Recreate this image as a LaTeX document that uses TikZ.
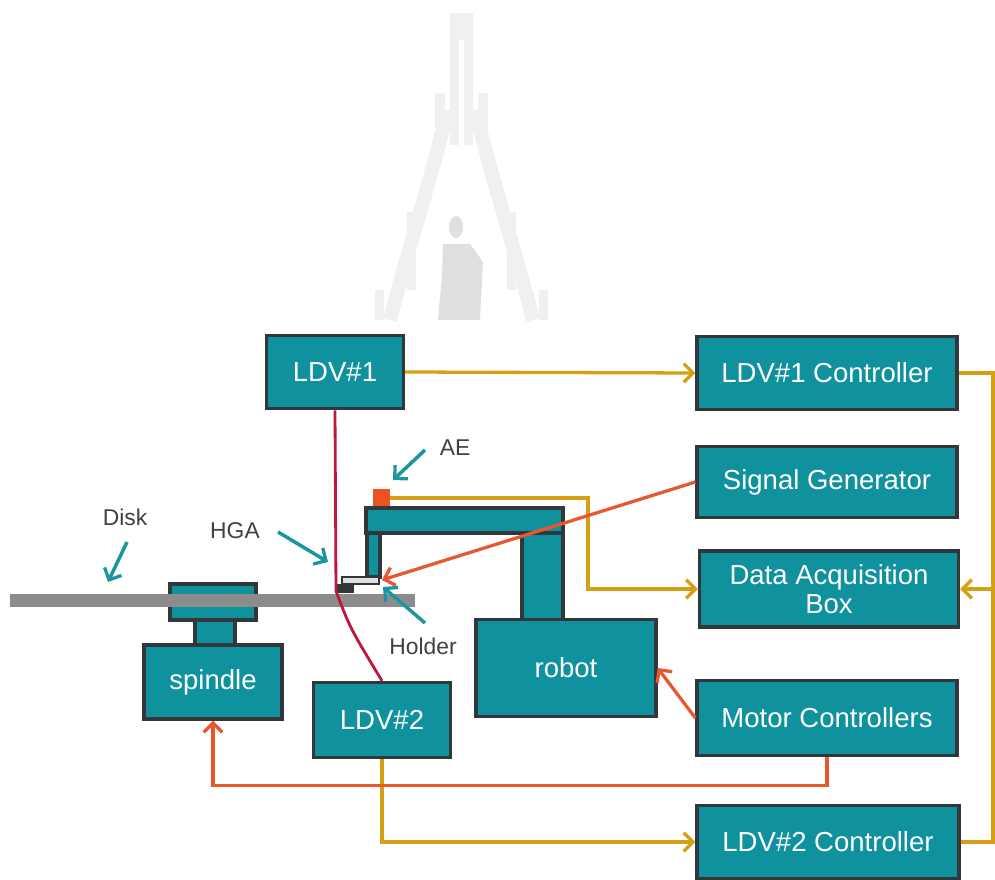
\documentclass[tikz,border=0pt]{standalone}
\usepackage{fontspec}
\setmainfont{Liberation Sans}
\usetikzlibrary{arrows.meta}
\definecolor{boxteal}{RGB}{16,145,158}
\definecolor{boxedge}{RGB}{50,55,60}
\definecolor{wiregold}{RGB}{214,160,20}
\definecolor{sigred}{RGB}{232,88,48}
\definecolor{beamred}{RGB}{190,22,60}
\definecolor{pointteal}{RGB}{26,150,160}
\definecolor{diskgray}{RGB}{140,140,140}
\definecolor{aeorange}{RGB}{236,82,36}
\definecolor{tagtext}{RGB}{64,64,64}
\tikzset{% blocks and wires of the test rig
        unit/.style={draw=boxedge, fill=boxteal, line width=2.8pt, text=white,
          font=\fontsize{23.5}{25}\selectfont, inner sep=0pt, align=center},
        part/.style={draw=boxedge, fill=boxteal, line width=2.8pt},
        tag/.style={text=tagtext, font=\fontsize{19.5}{22}\selectfont, inner sep=0pt},
        barb/.style={-{Straight Barb[length=8pt,width=16pt,line width=2.8pt]}},
        wire/.style={draw=wiregold, line width=2.8pt},
        signal/.style={draw=sigred, line width=2.8pt},
        beam/.style={draw=beamred, line width=2.4pt},
        pointer/.style={draw=pointteal, line width=3pt, barb}
        }

\begin{document}
\begin{tikzpicture}[x=0.03cm, y=-0.03cm]
\useasboundingbox (0,0) rectangle (995,880);

% watermark
\fill [gray!12] (450,13) rectangle (473,145);
\fill [white] (459,40) rectangle (464,145);
\fill [gray!12] (435,93) rectangle (445,128);
\fill [gray!12] (478,93) rectangle (488,128);
\draw [gray!12, line width=12pt] (448,110) .. controls (425,200) and (405,260) .. (390,320);
\draw [gray!12, line width=12pt] (475,110) .. controls (498,200) and (518,260) .. (533,320);
\fill [gray!12] (407,212) rectangle (416,290);
\fill [gray!12] (507,212) rectangle (516,290);
\fill [gray!12] (375,290) rectangle (384,320);
\fill [gray!12] (539,290) rectangle (548,320);
\fill [gray!25] (456,227) ellipse (7 and 11);
\fill [gray!25] (443,244) -- (470,244) -- (483,262) -- (480,320) -- (438,320) -- (442,275) -- cycle;

% spindle and disk
\filldraw [part] (195,620) rectangle (235,645);
\filldraw [part] (170,584) rectangle (256,620);
\fill [diskgray] (10,594) rectangle (415,607);

% robot arm
\filldraw [part] (522,533) rectangle (563,620);
\filldraw [part] (366,508) rectangle (563,533);
\filldraw [part] (367,533) rectangle (380,577);

% holder with HGA
\filldraw [draw=boxedge, fill=gray!25, line width=1.8pt] (342,577) rectangle (379,584);
\fill [boxedge] (336,584) rectangle (354,593);
\node [fill=aeorange, minimum size=0.51cm, inner sep=0pt] (ae) at (381,498) {};

% blocks
\node [unit, minimum width=4.1cm, minimum height=2.2cm] (ldv1) at (335,372) {LDV\#1};
\node [unit, minimum width=7.8cm, minimum height=2.2cm] (ldv1ctl) at (827,373) {LDV\#1 Controller};
\node [unit, minimum width=7.8cm, minimum height=2.13cm] (siggen) at (827,482) {Signal Generator};
\node [unit, minimum width=7.77cm, minimum height=2.28cm] (daq) at (829,589) {Data Acquisition\\Box};
\node [unit, minimum width=7.8cm, minimum height=2.25cm] (motor) at (827,718) {Motor Controllers};
\node [unit, minimum width=7.86cm, minimum height=2.2cm] (ldv2ctl) at (828,842) {LDV\#2 Controller};
\node [unit, minimum width=5.4cm, minimum height=2.9cm] (robot) at (566,668) {robot};
\node [unit, minimum width=4.14cm, minimum height=2.22cm] (spindle) at (213,682) {spindle};
\node [unit, minimum width=4.11cm, minimum height=2.25cm] (ldv2) at (382,720) {LDV\#2};

% laser beams
\coordinate (spot) at (336,591);
\draw [beam] (ldv1.south) -- (spot) .. controls (350,628) .. (ldv2.north);

% gold signal wires
\draw [wire, barb] (ldv1.east) -- (ldv1ctl.west);
\draw [wire, barb] (ae.east) -- (588,498) |- (daq.west);
\draw [wire] (ldv1ctl.east) -- (993,373) |- (ldv2ctl.east);
\draw [wire, barb] (993,589) -- (daq.east);
\draw [wire, barb] (ldv2.south) |- (ldv2ctl.west);

% drive and excitation
\coordinate (holdertip) at (382,580);
\draw [signal, barb] (siggen.west) -- (holdertip);
\draw [signal, barb] (motor.west) -- (robot.east);
\draw [signal, barb] (motor.south) -- ++(0,28) -| (spindle.south);

% labels
\node [tag] (disklbl) at (125,517) {Disk};
\node [tag] (hgalbl) at (235,531) {HGA};
\node [tag] (aelbl) at (455,448) {AE};
\node [tag] (holderlbl) at (423,646) {Holder};
\draw [pointer] (127,542) -- (108,582);
\draw [pointer] (278,532) -- (328,562);
\draw [pointer] (425,450) -- (393,480);
\draw [pointer] (425,623) -- (383,587);
\end{tikzpicture}
\end{document}
